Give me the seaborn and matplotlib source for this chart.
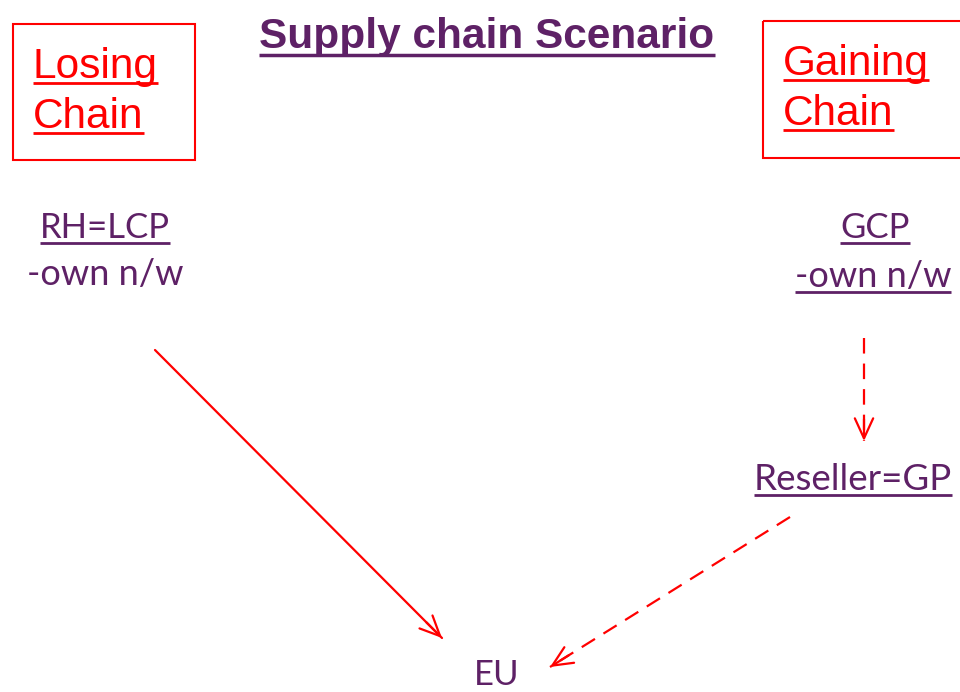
import matplotlib
matplotlib.use("Agg")
import matplotlib.pyplot as plt
import seaborn as sns
import pandas as pd

sns.set_theme(style="white")
plt.rcParams['font.family'] = ['Lato', 'DejaVu Sans']

PURPLE = "#5E2166"
RED = "#FF0000"

# ---- content ----
title = "Supply chain Scenario"
chain_labels = ["Losing\nChain", "Gaining\nChain"]
node_labels = ["RH=LCP", "-own n/w", "GCP", "-own n/w", "Reseller=GP", "EU"]
node_underlined = [True, False, True, True, True, False]
edge_from = ["RH=LCP", "GCP", "Reseller=GP"]
edge_to = ["EU", "Reseller=GP", "EU"]
edge_dashed = [False, True, True]

# ---- layout (pixel coordinates) ----
node_pos = [(105, 238), (105, 285), (875, 238), (873, 287), (853, 490), (497, 685)]
node_size = [25, 26, 25, 26, 26.5, 25]
edge_start = [(155, 350), (864, 338), (790, 517)]
edge_end = [(442, 638), (864, 441), (550, 667)]
box_rects = [(13, 24, 182, 136), (763, 21, 210, 137)]
box_text_pos = [(33, 128), (783, 125)]

fig = plt.figure(figsize=(9.6, 6.92), dpi=100)
ax = fig.add_axes([0, 0, 1, 1])

texts_to_underline = []

t = ax.text(487, 48, title, ha="center", va="baseline", fontsize=30.5,
            fontweight="bold", family="Liberation Sans", color=PURPLE)
texts_to_underline.append((t, PURPLE, 2.5, 7))

for (x, y, w, h), (tx, ty), lab in zip(box_rects, box_text_pos, chain_labels):
    ax.add_patch(plt.Rectangle((x, y), w, h, fill=False, edgecolor=RED, lw=1.5))
    lines = lab.split("\n")
    for i, ln in enumerate(lines):
        tt = ax.text(tx, ty - 50 * (len(lines) - 1 - i), ln, ha="left", va="baseline",
                     fontsize=30.5, family="Liberation Sans", color=RED)
        texts_to_underline.append((tt, RED, 2.0, 5))

for lab, (x, y), ul, fs in zip(node_labels, node_pos, node_underlined, node_size):
    tt = ax.text(x, y, lab, ha="center", va="baseline", fontsize=fs,
                 family="Lato", color=PURPLE)
    if ul:
        texts_to_underline.append((tt, PURPLE, 2.0, 5))

# edges: shafts via seaborn, heads via annotate
for s, e, d in zip(edge_start, edge_end, edge_dashed):
    df = pd.DataFrame({"x": [s[0], e[0]], "y": [s[1], e[1]]})
    sns.lineplot(data=df, x="x", y="y", ax=ax, color=RED, lw=1.6,
                 linestyle=(0, (7, 4.5)) if d else "-", sort=False,
                 estimator=None)
    dx, dy = e[0] - s[0], e[1] - s[1]
    L = (dx ** 2 + dy ** 2) ** 0.5
    ax.annotate("", xy=e, xytext=(e[0] - dx / L * 22, e[1] - dy / L * 22),
                arrowprops=dict(arrowstyle="->,head_length=1.2,head_width=0.55",
                                color=RED, lw=1.6, shrinkA=0, shrinkB=0))
ax.set_xlim(0, 960)
ax.set_ylim(692, 0)
ax.axis("off")

fig.canvas.draw()
r = fig.canvas.get_renderer()
inv = ax.transData.inverted()
for tt, col, lw, off in texts_to_underline:
    bb = tt.get_window_extent(renderer=r)
    x0, _ = inv.transform((bb.x0, bb.y0))
    x1, _ = inv.transform((bb.x1, bb.y0))
    yb = tt.get_position()[1] + off
    ax.plot([x0, x1], [yb, yb], color=col, lw=lw, solid_capstyle="butt")

fig.savefig("out.png", dpi=100)
